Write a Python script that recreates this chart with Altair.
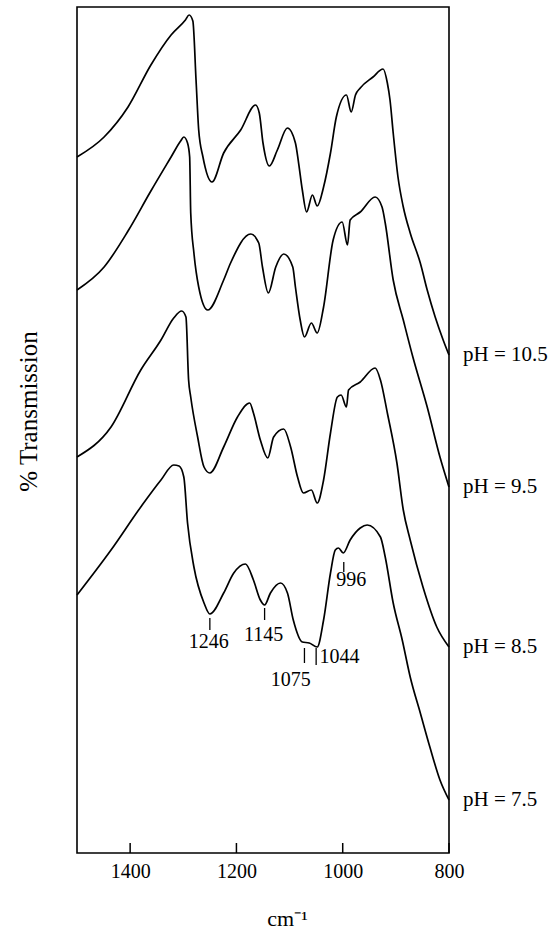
import altair as alt
import pandas as pd

# ---------------- data ----------------
wn_105 = [1500, 1449, 1404, 1361, 1323, 1296, 1289, 1282, 1276, 1271, 1263, 1246, 1224, 1192,
          1164, 1157, 1150, 1138, 1123, 1104, 1089, 1083, 1076, 1068, 1057, 1048, 1036, 1023,
          1012, 993, 984, 976, 967, 943, 924, 916, 911, 905, 896, 886, 873, 854, 841, 826, 811, 800]
tr_105 = [698, 718, 748, 790, 820, 835, 840, 834, 775, 725, 698, 673, 702, 725,
          750, 742, 712, 689, 705, 727, 712, 692, 665, 643, 660, 649, 668, 702,
          738, 760, 743, 760, 767, 778, 786, 772, 755, 722, 678, 648, 622, 592, 565, 538, 515, 500]

wn_95 = [1500, 1449, 1404, 1361, 1323, 1305, 1299, 1292, 1288, 1286, 1280, 1271, 1254, 1224,
         1211, 1173, 1158, 1151, 1140, 1126, 1111, 1094, 1089, 1080, 1072, 1059, 1048, 1036,
         1018, 1001, 991, 986, 967, 939, 926, 920, 905, 886, 868, 841, 817, 800]
tr_95 = [565, 588, 624, 664, 698, 714, 718, 712, 698, 642, 602, 568, 545, 575,
         592, 621, 612, 588, 562, 588, 601, 588, 568, 535, 518, 532, 522, 548,
         615, 633, 610, 635, 643, 658, 648, 632, 575, 535, 498, 448, 398, 368]

wn_85 = [1500, 1436, 1380, 1342, 1318, 1303, 1295, 1290, 1286, 1273, 1261, 1250, 1224, 1198,
         1175, 1168, 1155, 1141, 1130, 1111, 1098, 1085, 1074, 1059, 1048, 1036, 1023, 1010,
         1003, 993, 989, 967, 939, 929, 916, 898, 886, 873, 849, 823, 800]
tr_85 = [398, 428, 485, 515, 537, 544, 538, 475, 458, 418, 388, 382, 408, 438,
         452, 442, 415, 397, 418, 426, 408, 378, 362, 365, 352, 375, 422, 458,
         460, 448, 465, 473, 487, 475, 442, 392, 345, 315, 268, 228, 208]

wn_75 = [1500, 1436, 1380, 1342, 1318, 1308, 1299, 1292, 1280, 1261, 1250, 1224, 1205, 1183,
         1168, 1155, 1147, 1136, 1117, 1104, 1093, 1076, 1063, 1048, 1036, 1023, 1014, 1008,
         999, 986, 967, 954, 929, 920, 905, 888, 873, 854, 836, 817, 800]
tr_75 = [260, 305, 348, 375, 390, 389, 378, 332, 288, 252, 241, 262, 282, 291,
         275, 255, 250, 262, 272, 262, 235, 213, 212, 208, 235, 282, 305, 307,
         302, 315, 327, 330, 318, 298, 252, 215, 178, 142, 108, 75, 55]

series_names = ["pH = 10.5", "pH = 9.5", "pH = 8.5", "pH = 7.5"]
series_wn = [wn_105, wn_95, wn_85, wn_75]
series_tr = [tr_105, tr_95, tr_85, tr_75]

tick_values = [1400, 1200, 1000, 800]

# peak annotations
peak_text = ["1246", "1145", "1075", "1044", "996"]
peak_mark_wn = [1250, 1147, 1072, 1050, 998]
peak_mark_top = [237, 247, 207, 207, 293]
peak_mark_bottom = [225, 235, 192, 190, 283]
peak_label_wn = [1252, 1149, 1098, 1006, 984]
peak_label_tr = [213, 220, 175, 198, 275]

# ---------------- tables ----------------
rows = []
for name, ws, ts in zip(series_names, series_wn, series_tr):
    for w, t in zip(ws, ts):
        rows.append({"series": name, "wn": w, "T": t})
df = pd.DataFrame(rows)

df_end = pd.DataFrame({"series": series_names, "T": [ts[-1] for ts in series_tr]})
df_ticks = pd.DataFrame({"wn": tick_values})
df_marks = pd.DataFrame({"wn": peak_mark_wn, "T": peak_mark_top, "T2": peak_mark_bottom})
df_plab = pd.DataFrame({"text": peak_text, "wn": peak_label_wn, "T": peak_label_tr})

FONT = "Liberation Serif"
W, H = 372, 846

xscale = alt.Scale(domain=[800, 1500], reverse=True, nice=False, zero=False)
yscale = alt.Scale(domain=[2, 848], nice=False, zero=False)

xaxis = alt.Axis(
    values=tick_values, format="d", ticks=False, domain=False, grid=False,
    labelFont=FONT, labelFontSize=20, labelColor="black", labelPadding=8, labelFlush=False,
    title="cm⁻¹", titleFont=FONT, titleFontSize=22, titleFontWeight="normal", titleColor="black",
    titleX=210, titleY=72, titleBaseline="alphabetic", titleAlign="center")
yaxis = alt.Axis(
    labels=False, ticks=False, domain=False, grid=False,
    title="% Transmission", titleFont=FONT, titleFontSize=25, titleFontWeight="normal",
    titleColor="black", titleAngle=-90, titleX=-49, titleY=404,
    titleBaseline="middle", titleAlign="center")

X = alt.X("wn:Q", scale=xscale, axis=xaxis)
Y = alt.Y("T:Q", scale=yscale, axis=yaxis)

lines = alt.Chart(df).mark_line(color="black", strokeWidth=1.7, interpolate="monotone").encode(
    x=X, y=Y,
    detail="series:N",
    order=alt.Order("wn:Q", sort="descending"),
)

ticks = alt.Chart(df_ticks).mark_rule(color="black", strokeWidth=1.5).encode(
    x=X, y=alt.value(H), y2=alt.value(H - 10),
)

marks = alt.Chart(df_marks).mark_rule(color="black", strokeWidth=1.3).encode(
    x=X, y=Y, y2="T2:Q",
)

plabels = alt.Chart(df_plab).mark_text(font=FONT, fontSize=20, color="black",
                                       align="center", baseline="middle").encode(
    x=X, y=Y, text="text:N",
)

phlabels = alt.Chart(df_end).mark_text(font=FONT, fontSize=21, color="black",
                                       align="left", baseline="middle").encode(
    x=alt.value(W + 14), y=Y, text="series:N",
)

chart = alt.layer(lines, ticks, marks, plabels, phlabels).properties(
    width=W, height=H,
    autosize=alt.AutoSizeParams(type="none"),
    padding={"left": 77, "top": 7, "right": 111, "bottom": 80},
    background="white",
).configure_view(stroke="black", strokeWidth=1.6)

chart.save("out.html", embed_options={"renderer": "svg", "actions": False})
